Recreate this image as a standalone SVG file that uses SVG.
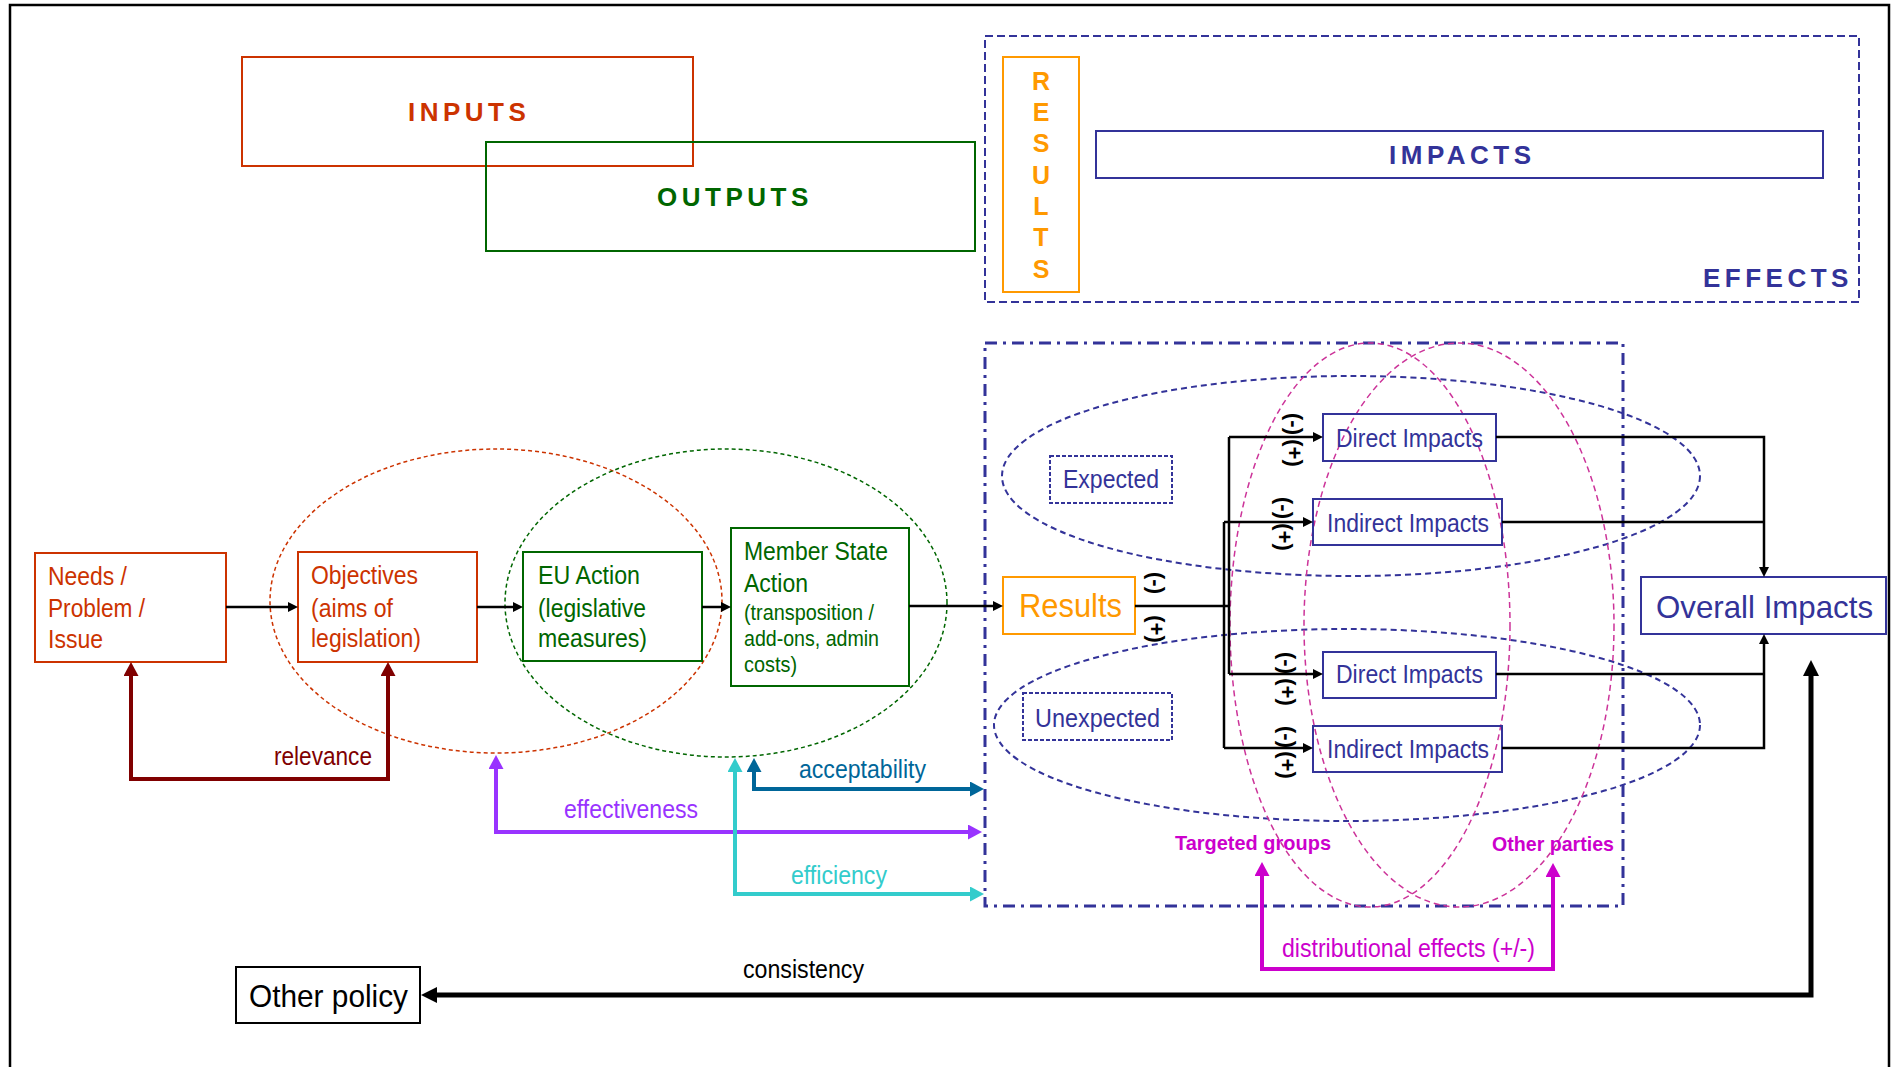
<svg xmlns="http://www.w3.org/2000/svg" width="1901" height="1067" viewBox="0 0 1901 1067">
  <defs>
    <style>
      text { font-family: "Liberation Sans", Arial, Helvetica, sans-serif; }
      .lbl { font-size: 25px; }
      .sm { font-size: 21.5px; }
      .title { font-size: 26px; font-weight: bold; letter-spacing: 4.5px; }
      .sign { font-size: 22px; font-weight: bold; text-anchor: middle; dominant-baseline: central; fill: #000; }
      .red { fill: #CC3300; }
      .grn { fill: #006600; }
      .navy { fill: #333399; }
      .org { fill: #FF9900; }
      .box { fill: none; stroke-width: 2; }
      .b-red { stroke: #CC3300; }
      .b-grn { stroke: #006600; }
      .b-navy { stroke: #333399; }
      .b-org { stroke: #FF9900; }
      .dotbox { fill: none; stroke: #333399; stroke-width: 2; stroke-dasharray: 4 2; }
      .thin { fill: none; stroke: #000; stroke-width: 2.5; }
      .thick { fill: none; stroke-width: 4; }
    </style>
    <marker id="ah" viewBox="0 0 10 10" markerWidth="10" markerHeight="10" refX="2" refY="5" orient="auto" markerUnits="userSpaceOnUse">
      <path d="M0,0 L10,5 L0,10 z" fill="#000"/>
    </marker>
    <marker id="ah-big" viewBox="0 0 16 16" markerWidth="16" markerHeight="16" refX="3" refY="8" orient="auto-start-reverse" markerUnits="userSpaceOnUse">
      <path d="M0,0 L16,8 L0,16 z" fill="#000"/>
    </marker>
    <marker id="ah-rel" viewBox="0 0 14 15" markerWidth="14" markerHeight="15" refX="2" refY="7.5" orient="auto-start-reverse" markerUnits="userSpaceOnUse">
      <path d="M0,0 L14,7.5 L0,15 z" fill="#800000"/>
    </marker>
    <marker id="ah-pur" viewBox="0 0 14 15" markerWidth="14" markerHeight="15" refX="2" refY="7.5" orient="auto-start-reverse" markerUnits="userSpaceOnUse">
      <path d="M0,0 L14,7.5 L0,15 z" fill="#9933FF"/>
    </marker>
    <marker id="ah-cyan" viewBox="0 0 14 15" markerWidth="14" markerHeight="15" refX="2" refY="7.5" orient="auto-start-reverse" markerUnits="userSpaceOnUse">
      <path d="M0,0 L14,7.5 L0,15 z" fill="#33CCCC"/>
    </marker>
    <marker id="ah-teal" viewBox="0 0 14 15" markerWidth="14" markerHeight="15" refX="2" refY="7.5" orient="auto-start-reverse" markerUnits="userSpaceOnUse">
      <path d="M0,0 L14,7.5 L0,15 z" fill="#006699"/>
    </marker>
    <marker id="ah-mag" viewBox="0 0 14 15" markerWidth="14" markerHeight="15" refX="2" refY="7.5" orient="auto-start-reverse" markerUnits="userSpaceOnUse">
      <path d="M0,0 L14,7.5 L0,15 z" fill="#CC00CC"/>
    </marker>
  </defs>

  <rect width="1901" height="1067" fill="#fff"/>
  <!-- outer frame (open at the bottom) -->
  <path d="M10,1067 V5 H1889 V1067" fill="none" stroke="#000" stroke-width="2.5"/>

  <!-- legend at the top -->
  <g id="inputs">
    <rect class="box b-red" x="242" y="57" width="451" height="109"/>
    <text class="title red" x="408" y="121">INPUTS</text>
  </g>
  <g id="outputs">
    <rect class="box b-grn" x="486" y="142" width="489" height="109"/>
    <text class="title grn" x="657" y="206">OUTPUTS</text>
  </g>
  <g id="effects">
    <rect x="985" y="36" width="874" height="266" fill="none" stroke="#333399" stroke-width="2" stroke-dasharray="8 4"/>
    <text class="title navy" x="1703" y="287">EFFECTS</text>
  </g>
  <g id="results-legend">
    <rect class="box b-org" x="1003" y="57" width="76" height="235"/>
    <g class="org" font-size="25" font-weight="bold" text-anchor="middle">
      <text x="1041" y="90">R</text>
      <text x="1041" y="121">E</text>
      <text x="1041" y="152">S</text>
      <text x="1041" y="184">U</text>
      <text x="1041" y="215">L</text>
      <text x="1041" y="246">T</text>
      <text x="1041" y="278">S</text>
    </g>
  </g>
  <g id="impacts-legend">
    <rect class="box b-navy" x="1096" y="131" width="727" height="47"/>
    <text class="title navy" x="1389" y="164">IMPACTS</text>
  </g>

  <!-- grouping outlines -->
  <g id="zones" fill="none">
    <ellipse cx="496" cy="601" rx="226" ry="152" stroke="#CC3300" stroke-width="1.5" stroke-dasharray="4 3"/>
    <ellipse cx="726" cy="603" rx="221" ry="154" stroke="#006600" stroke-width="1.5" stroke-dasharray="4 3"/>
    <rect x="985" y="343" width="638" height="563" stroke="#333399" stroke-width="3" stroke-dasharray="12 6 3 6"/>
    <ellipse cx="1351" cy="476" rx="349" ry="100" stroke="#333399" stroke-width="2" stroke-dasharray="6 4"/>
    <ellipse cx="1347" cy="725" rx="353" ry="96" stroke="#333399" stroke-width="2" stroke-dasharray="6 4"/>
    <ellipse cx="1370" cy="625" rx="140" ry="282" stroke="#CC3399" stroke-width="1.5" stroke-dasharray="6 4"/>
    <ellipse cx="1459" cy="625" rx="155" ry="282" stroke="#CC3399" stroke-width="1.5" stroke-dasharray="6 4"/>
  </g>

  <!-- intervention logic -->
  <g id="needs">
    <rect class="box b-red" x="35" y="553" width="191" height="109"/>
    <text class="lbl red" x="48" y="585" textLength="79" lengthAdjust="spacingAndGlyphs">Needs /</text>
    <text class="lbl red" x="48" y="617" textLength="97" lengthAdjust="spacingAndGlyphs">Problem /</text>
    <text class="lbl red" x="48" y="648" textLength="55" lengthAdjust="spacingAndGlyphs">Issue</text>
  </g>
  <g id="objectives">
    <rect class="box b-red" x="298" y="552" width="179" height="110"/>
    <text class="lbl red" x="311" y="584" textLength="107" lengthAdjust="spacingAndGlyphs">Objectives</text>
    <text class="lbl red" x="311" y="617" textLength="82" lengthAdjust="spacingAndGlyphs">(aims of</text>
    <text class="lbl red" x="311" y="647" textLength="110" lengthAdjust="spacingAndGlyphs">legislation)</text>
  </g>
  <g id="eu-action">
    <rect class="box b-grn" x="523" y="552" width="179" height="109"/>
    <text class="lbl grn" x="538" y="584" textLength="102" lengthAdjust="spacingAndGlyphs">EU Action</text>
    <text class="lbl grn" x="538" y="617" textLength="108" lengthAdjust="spacingAndGlyphs">(legislative</text>
    <text class="lbl grn" x="538" y="647" textLength="109" lengthAdjust="spacingAndGlyphs">measures)</text>
  </g>
  <g id="member-state-action">
    <rect class="box b-grn" x="731" y="528" width="178" height="158"/>
    <text class="lbl grn" x="744" y="560" textLength="144" lengthAdjust="spacingAndGlyphs">Member State</text>
    <text class="lbl grn" x="744" y="592" textLength="64" lengthAdjust="spacingAndGlyphs">Action</text>
    <text class="sm grn" x="744" y="620" textLength="130" lengthAdjust="spacingAndGlyphs">(transposition /</text>
    <text class="sm grn" x="744" y="646" textLength="135" lengthAdjust="spacingAndGlyphs">add-ons, admin</text>
    <text class="sm grn" x="744" y="672" textLength="53" lengthAdjust="spacingAndGlyphs">costs)</text>
  </g>
  <g id="results">
    <rect class="box b-org" x="1003" y="577" width="132" height="57"/>
    <text class="org" x="1019" y="617" font-size="33" textLength="103" lengthAdjust="spacingAndGlyphs">Results</text>
  </g>
  <g id="expected">
    <rect class="dotbox" x="1050" y="456" width="122" height="47"/>
    <text class="lbl navy" x="1063" y="488" textLength="96" lengthAdjust="spacingAndGlyphs">Expected</text>
  </g>
  <g id="unexpected">
    <rect class="dotbox" x="1023" y="693" width="149" height="47"/>
    <text class="lbl navy" x="1035" y="727" textLength="125" lengthAdjust="spacingAndGlyphs">Unexpected</text>
  </g>
  <g id="direct-expected">
    <rect class="box b-navy" x="1323" y="414" width="173" height="47"/>
    <text class="lbl navy" x="1336" y="447" textLength="147" lengthAdjust="spacingAndGlyphs">Direct Impacts</text>
  </g>
  <g id="indirect-expected">
    <rect class="box b-navy" x="1313" y="499" width="189" height="46"/>
    <text class="lbl navy" x="1327" y="532" textLength="162" lengthAdjust="spacingAndGlyphs">Indirect Impacts</text>
  </g>
  <g id="direct-unexpected">
    <rect class="box b-navy" x="1323" y="652" width="173" height="46"/>
    <text class="lbl navy" x="1336" y="683" textLength="147" lengthAdjust="spacingAndGlyphs">Direct Impacts</text>
  </g>
  <g id="indirect-unexpected">
    <rect class="box b-navy" x="1313" y="726" width="189" height="46"/>
    <text class="lbl navy" x="1327" y="758" textLength="162" lengthAdjust="spacingAndGlyphs">Indirect Impacts</text>
  </g>
  <g id="overall-impacts">
    <rect class="box b-navy" x="1641" y="577" width="245" height="57"/>
    <text class="navy" x="1656" y="618" font-size="32" textLength="217" lengthAdjust="spacingAndGlyphs">Overall Impacts</text>
  </g>
  <g id="other-policy">
    <rect class="box" stroke="#000" x="236" y="967" width="184" height="56"/>
    <text x="249" y="1007" font-size="32" fill="#000" textLength="159" lengthAdjust="spacingAndGlyphs">Other policy</text>
  </g>
  <g id="groups-labels" font-size="21" font-weight="bold" fill="#CC00CC">
    <text x="1175" y="850" textLength="156" lengthAdjust="spacingAndGlyphs">Targeted groups</text>
    <text x="1492" y="851" textLength="122" lengthAdjust="spacingAndGlyphs">Other parties</text>
  </g>

  <!-- (+)/(-) effect signs -->
  <g id="signs">
    <text class="sign" transform="translate(1156,583) rotate(90)">(-)</text>
    <text class="sign" transform="translate(1156,629) rotate(90)">(+)</text>
    <text class="sign" transform="translate(1294,424) rotate(90)">(-)</text>
    <text class="sign" transform="translate(1294,453) rotate(90)">(+)</text>
    <text class="sign" transform="translate(1284,508) rotate(90)">(-)</text>
    <text class="sign" transform="translate(1284,537) rotate(90)">(+)</text>
    <text class="sign" transform="translate(1287,663) rotate(90)">(-)</text>
    <text class="sign" transform="translate(1287,692) rotate(90)">(+)</text>
    <text class="sign" transform="translate(1287,737) rotate(90)">(-)</text>
    <text class="sign" transform="translate(1287,765) rotate(90)">(+)</text>
  </g>

  <!-- connectors -->
  <g id="connectors">
    <path class="thin" d="M226,607 H290" marker-end="url(#ah)"/>
    <path class="thin" d="M477,607 H515" marker-end="url(#ah)"/>
    <path class="thin" d="M702,607 H723" marker-end="url(#ah)"/>
    <path class="thin" d="M909,606 H995" marker-end="url(#ah)"/>
    <path class="thin" d="M1135,606 H1229"/>
    <path class="thin" d="M1229,437 V674"/>
    <path class="thin" d="M1224,522 V748"/>
    <path class="thin" d="M1229,437 H1315" marker-end="url(#ah)"/>
    <path class="thin" d="M1224,522 H1305" marker-end="url(#ah)"/>
    <path class="thin" d="M1229,674 H1315" marker-end="url(#ah)"/>
    <path class="thin" d="M1224,748 H1305" marker-end="url(#ah)"/>
    <path class="thin" d="M1496,437 H1764 V569" marker-end="url(#ah)"/>
    <path class="thin" d="M1502,522 H1764"/>
    <path class="thin" d="M1496,674 H1764"/>
    <path class="thin" d="M1502,748 H1764 V642" marker-end="url(#ah)"/>

    <path class="thick" stroke="#800000" d="M131,674 V779 H388 V674" marker-start="url(#ah-rel)" marker-end="url(#ah-rel)"/>
    <path class="thick" stroke="#9933FF" d="M496,767 V832 H970" marker-start="url(#ah-pur)" marker-end="url(#ah-pur)"/>
    <path class="thick" stroke="#33CCCC" d="M735,770 V894 H972" marker-start="url(#ah-cyan)" marker-end="url(#ah-cyan)"/>
    <path class="thick" stroke="#006699" d="M754,770 V789 H972" marker-start="url(#ah-teal)" marker-end="url(#ah-teal)"/>
    <path class="thick" stroke="#CC00CC" d="M1262,874 V969 H1553 V875" marker-start="url(#ah-mag)" marker-end="url(#ah-mag)"/>
    <path fill="none" stroke="#000" stroke-width="5" d="M1811,673 V995 H434" marker-start="url(#ah-big)" marker-end="url(#ah-big)"/>

    <text class="lbl" fill="#800000" x="274" y="765" textLength="98" lengthAdjust="spacingAndGlyphs">relevance</text>
    <text class="lbl" fill="#9933FF" x="564" y="818" textLength="134" lengthAdjust="spacingAndGlyphs">effectiveness</text>
    <text class="lbl" fill="#33CCCC" x="791" y="884" textLength="96" lengthAdjust="spacingAndGlyphs">efficiency</text>
    <text class="lbl" fill="#006699" x="799" y="778" textLength="127" lengthAdjust="spacingAndGlyphs">acceptability</text>
    <text class="lbl" fill="#000" x="743" y="978" textLength="121" lengthAdjust="spacingAndGlyphs">consistency</text>
    <text class="lbl" fill="#CC00CC" x="1282" y="957" textLength="253" lengthAdjust="spacingAndGlyphs">distributional effects (+/-)</text>
  </g>
</svg>
